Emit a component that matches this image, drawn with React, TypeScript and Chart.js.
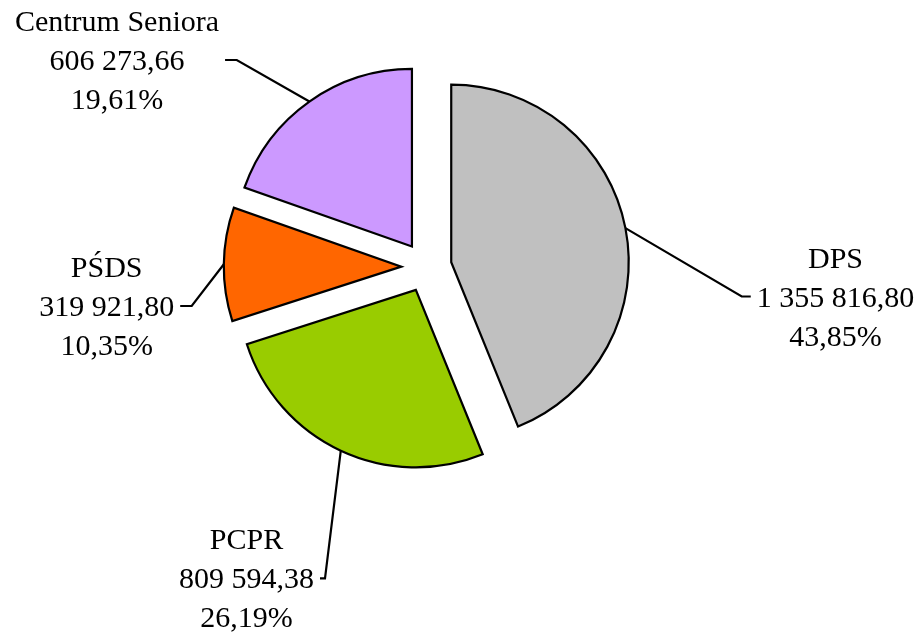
import React, { useEffect, useRef } from "react";
import { Chart, registerables } from "chart.js";

Chart.register(...registerables);

// ---- data ----
const categories = ["DPS", "PCPR", "PŚDS", "Centrum Seniora"];
const values = [1355816.8, 809594.38, 319921.8, 606273.66];

// ---- styles / layout ----
const colors = ["#C0C0C0", "#99CC00", "#FF6600", "#CC99FF"];
const W = 923;
const H = 632;
const RADIUS = 177.5;
const EXPLODE = 25.2;
const FONT_SIZE = 30;
const LINE_H = 39;
const CAP_HALF = 10;
const PAD = 6;
const STROKE = 2.2;
// label block centre relative to pie centre, and leader stub lengths
const labelDX = [409, -180, -319.8, -309.5];
const labelDY = [29.5, 311.3, 39, -207];
const stubLen = [9, 5, 11.5, 11.7];

function fmtNum(v: number): string {
  const [i, d] = v.toFixed(2).split(".");
  const grouped = i.replace(/\B(?=(\d{3})+(?!\d))/g, " ");
  return grouped + "," + d;
}
function fmtPct(p: number): string {
  return (p * 100).toFixed(2).replace(".", ",") + "%";
}

const explodePlugin = {
  id: "explodeSlices",
  afterDatasetUpdate(chart: any, args: any) {
    args.meta.data.forEach((arc: any) => {
      const mid = (arc.startAngle + arc.endAngle) / 2;
      arc.x += Math.cos(mid) * EXPLODE;
      arc.y += Math.sin(mid) * EXPLODE;
    });
  },
};

const labelPlugin = {
  id: "outsideLabels",
  afterDatasetsDraw(chart: any) {
    const ctx = chart.ctx as CanvasRenderingContext2D;
    const meta = chart.getDatasetMeta(0);
    const total = values.reduce((a, b) => a + b, 0);
    const cx = (chart.chartArea.left + chart.chartArea.right) / 2;
    const cy = (chart.chartArea.top + chart.chartArea.bottom) / 2;
    ctx.save();
    ctx.font = `${FONT_SIZE}px "Liberation Serif", "Times New Roman", serif`;
    ctx.fillStyle = "#000";
    ctx.strokeStyle = "#000";
    ctx.lineWidth = STROKE;
    ctx.lineJoin = "miter";
    meta.data.forEach((arc: any, i: number) => {
      const mid = (arc.startAngle + arc.endAngle) / 2;
      const px = arc.x + Math.cos(mid) * arc.outerRadius;
      const py = arc.y + Math.sin(mid) * arc.outerRadius;
      const lines = [categories[i], fmtNum(values[i]), fmtPct(values[i] / total)];
      const lx = cx + labelDX[i];
      const ly = cy + labelDY[i];
      const maxW = Math.max(...lines.map((l) => ctx.measureText(l).width));
      const onRight = lx > cx;
      const edge = onRight ? lx - maxW / 2 - PAD : lx + maxW / 2 + PAD;
      const elbow = onRight ? edge - stubLen[i] : edge + stubLen[i];
      ctx.beginPath();
      ctx.moveTo(px, py);
      ctx.lineTo(elbow, ly);
      ctx.lineTo(edge, ly);
      ctx.stroke();
      ctx.textAlign = "center";
      ctx.textBaseline = "alphabetic";
      lines.forEach((t, k) => {
        ctx.fillText(t, lx, ly + (k - 1) * LINE_H + CAP_HALF);
      });
    });
    ctx.restore();
  },
};

export default function App() {
  const ref = useRef<HTMLCanvasElement | null>(null);
  useEffect(() => {
    if (!ref.current) return;
    const chart = new Chart(ref.current, {
      type: "pie",
      data: {
        labels: categories,
        datasets: [
          {
            data: values,
            backgroundColor: colors,
            borderColor: "#000",
            borderWidth: STROKE,
            borderJoinStyle: "miter",
            radius: RADIUS,
          } as any,
        ],
      },
      options: {
        responsive: false,
        animation: false,
        events: [],
        radius: RADIUS,
        layout: { padding: { left: 0, right: 70, top: 0, bottom: 98 } },
        plugins: {
          legend: { display: false },
          tooltip: { enabled: false },
        },
      } as any,
      plugins: [explodePlugin, labelPlugin],
    });
    return () => chart.destroy();
  }, []);
  return (
    <div style={{ position: "absolute", left: 0, top: 0, width: W, height: H, background: "#fff" }}>
      <canvas ref={ref} width={W} height={H} style={{ display: "block" }} />
    </div>
  );
}
